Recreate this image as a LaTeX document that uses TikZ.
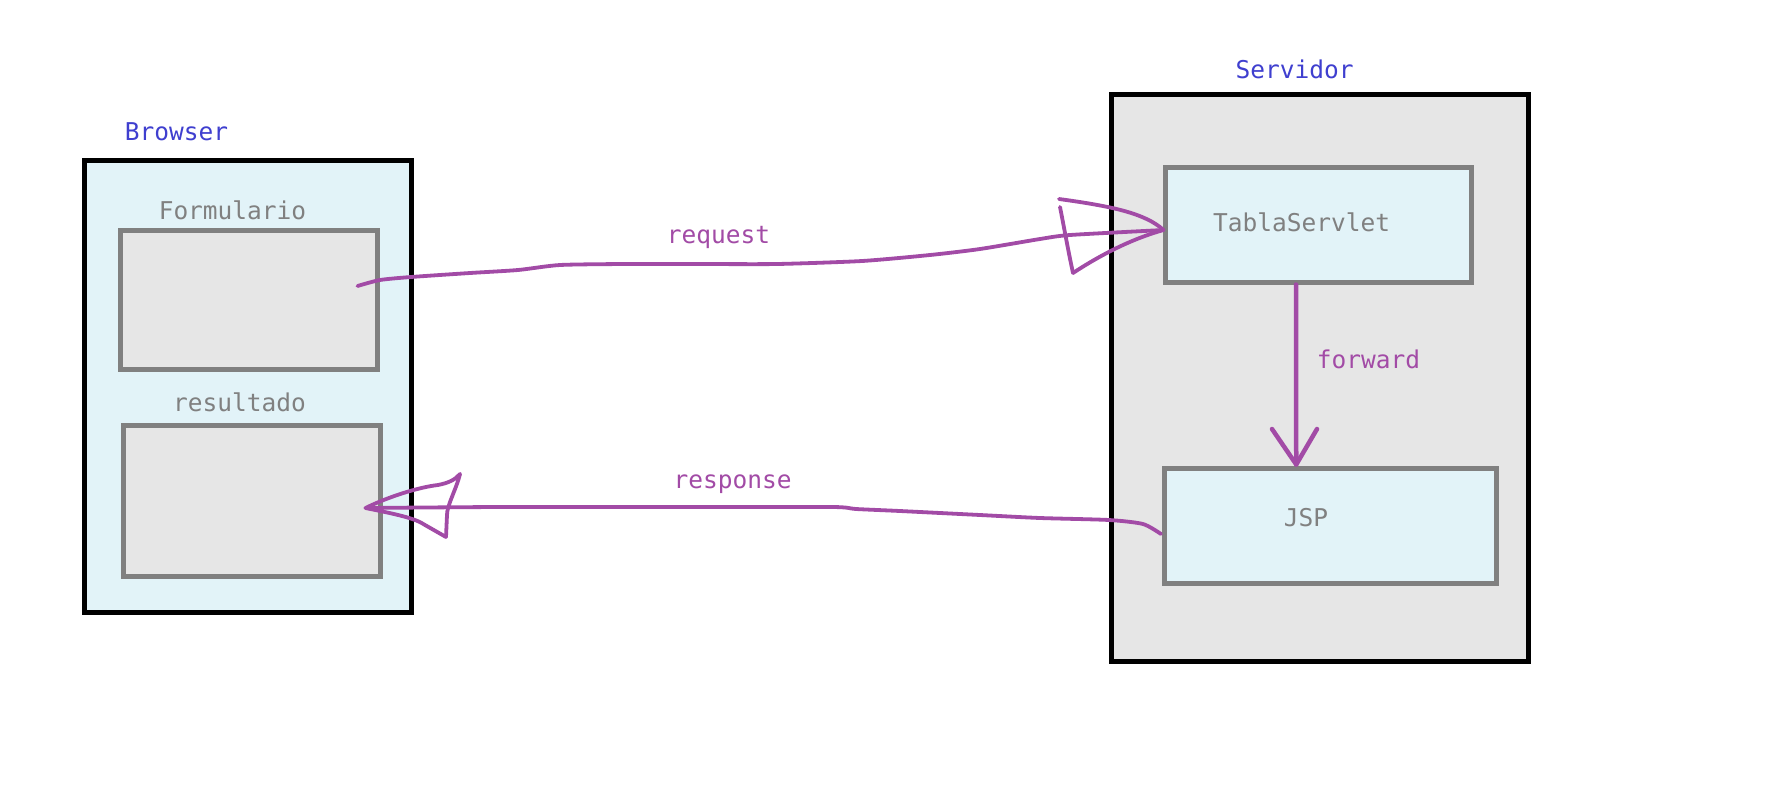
\documentclass[tikz,border=0pt]{standalone}
\usepackage{fontspec}
\setmonofont{DejaVu Sans Mono}
\usetikzlibrary{calc}
\definecolor{cyanfill}{HTML}{E2F3F8}
\definecolor{grayfill}{HTML}{E6E6E6}
\definecolor{graystroke}{HTML}{808080}
\definecolor{titleblue}{HTML}{3F3FCF}
\definecolor{penpurple}{HTML}{A24BA6}
\tikzset{
  outerbox/.style={draw=black, line width=5pt, inner sep=0pt},
  innerbox/.style={draw=graystroke, line width=5pt, inner sep=0pt},
  txt/.style={font=\ttfamily\fontsize{24.5}{28}\selectfont, inner sep=0pt, anchor=base},
  title/.style={txt, text=titleblue},
  boxtxt/.style={txt, text=graystroke},
  conntxt/.style={txt, text=penpurple},
  pen/.style={draw=penpurple, line width=3.8pt, line cap=round, line join=round},
  thickpen/.style={draw=penpurple, line width=4.5pt, line cap=round, line join=round}
}
\begin{document}
\begin{tikzpicture}[x=1pt,y=-1pt]
\useasboundingbox[fill=white] (0,0) rectangle (1766,801);
% Browser
\node[outerbox, fill=cyanfill, minimum width=327pt, minimum height=451.5pt] (browser) at (248,386.25) {};
\node[title] (browserlbl) at (176.5,140) {Browser};
\node[innerbox, fill=grayfill, minimum width=257pt, minimum height=139pt] (form) at (249,300) {};
\node[boxtxt] (formlbl) at (232.5,219) {Formulario};
\node[innerbox, fill=grayfill, minimum width=257.5pt, minimum height=151pt] (res) at (251.75,501) {};
\node[boxtxt] (reslbl) at (239.5,411.5) {resultado};
% Servidor
\node[outerbox, fill=grayfill, minimum width=417pt, minimum height=567pt] (serv) at (1320,378) {};
\node[title] (servlbl) at (1294.5,78.3) {Servidor};
\node[innerbox, fill=cyanfill, minimum width=306pt, minimum height=114.5pt] (ts) at (1318.5,224.75) {};
\node[boxtxt] (tslbl) at (1301.5,231.3) {TablaServlet};
\node[innerbox, fill=cyanfill, minimum width=331.5pt, minimum height=115.5pt] (jsp) at (1330.25,525.75) {};
\node[boxtxt] (jsplbl) at (1306,526) {JSP};
% connector labels
\node[conntxt] (reqlbl) at (718.5,243.8) {request};
\node[conntxt] (resplbl) at (732.5,488.3) {response};
\node[conntxt] (fwdlbl) at (1368.5,368.3) {forward};
% request
\coordinate (reqstart) at ($(form.east)+(-22.5,-14)$);
\coordinate (reqtip) at ($(ts.west)+(0.5,5.25)$);
\draw[pen] plot[smooth, tension=0.4] coordinates {(reqstart) (380,280) (411,277) (470,273) (518,270) (560,265) (625,264) (700,264) (777,264) (862,261) (930,255) (980,249) (1040,239) (1070,235) (reqtip)};
\draw[pen] (reqtip) .. controls (1145,213) and (1110,206) .. (1059,199);
\draw[pen] (reqtip) .. controls (1135,238) and (1105,252) .. (1073,273);
\draw[pen] (1073,273) .. controls (1068,250) and (1064,227) .. (1060,207);
% response
\coordinate (respstart) at ($(jsp.west)+(-1,8.25)$);
\coordinate (resptip) at ($(res.east)+(-17.5,7)$);
\draw[pen] plot[smooth, tension=0.4] coordinates {(respstart) (1143,524) (1109,520) (1040,518) (980,515) (900,511) (856,509) (833,507) (700,507) (500,507) (resptip)};
\draw[pen] (resptip) .. controls (390,496) and (420,487) .. (438,485) .. controls (448,483) and (455,480) .. (460,474);
\draw[pen] (460,474) .. controls (456,490) and (447,505) .. (447,515) -- (446,537);
\draw[pen] (resptip) .. controls (395,514) and (415,518) .. (425,525) -- (446,537);
% forward
\coordinate (fwdstart) at ($(ts.south)+(-22.5,0)$);
\coordinate (fwdtip) at ($(jsp.north)+(-34,-1)$);
\draw[thickpen] (fwdstart) -- (fwdtip);
\draw[thickpen] (1272,429) -- (fwdtip) -- (1317,429);
\end{tikzpicture}
\end{document}
